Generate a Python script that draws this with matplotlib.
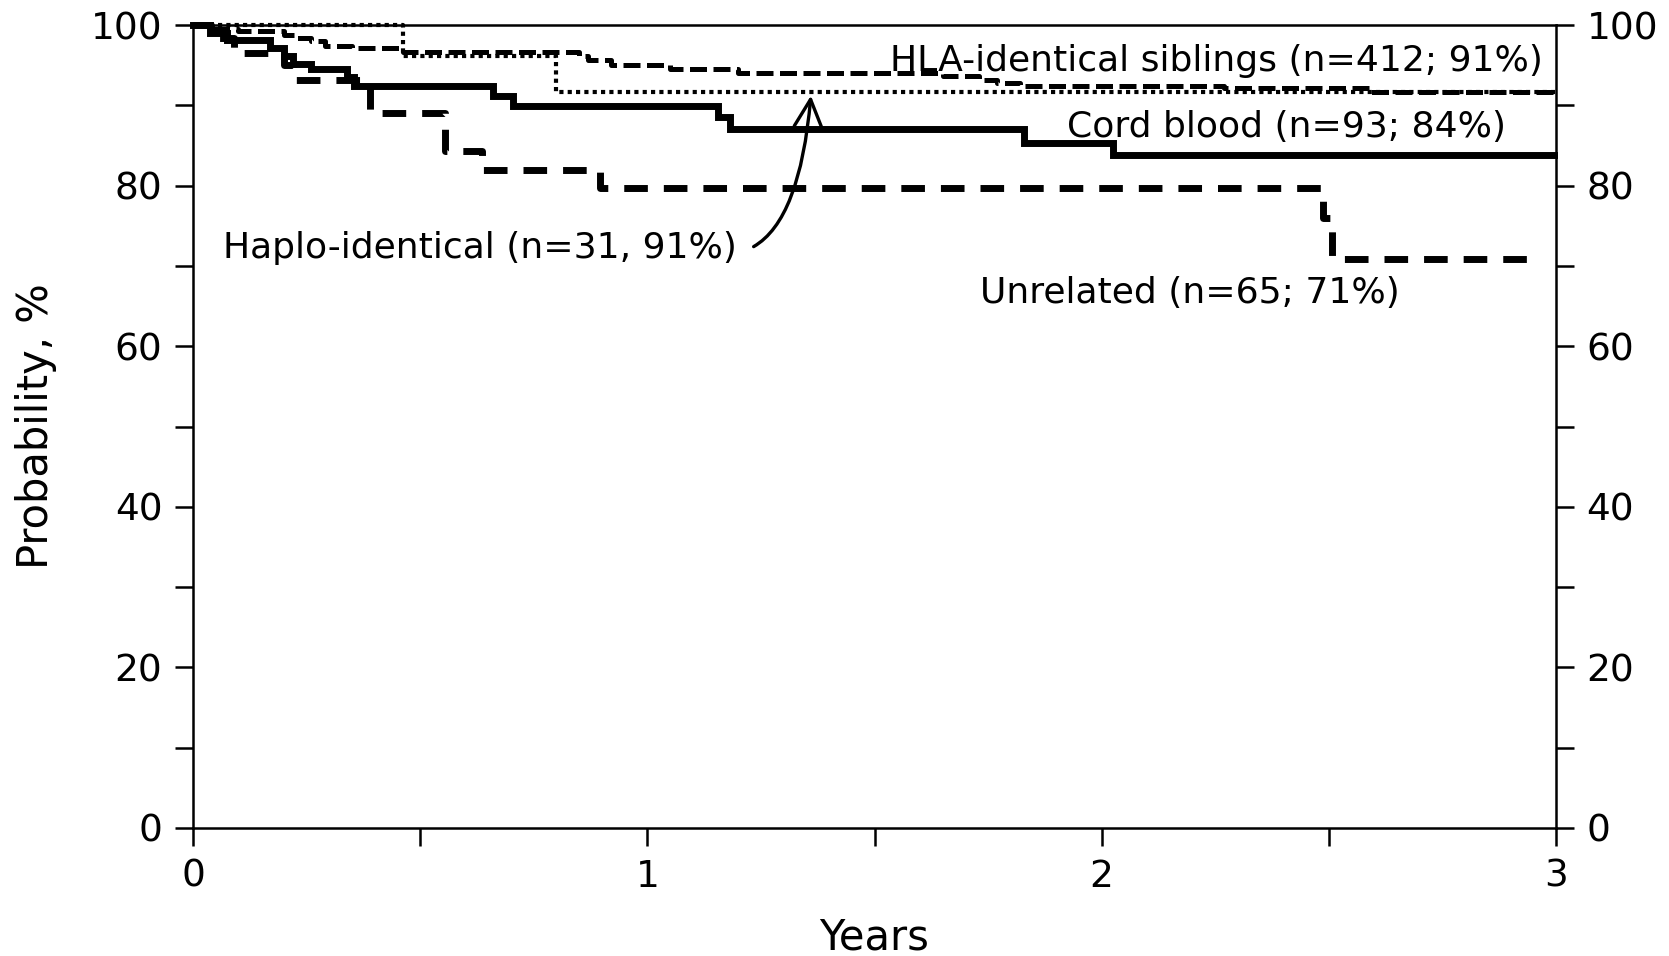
import matplotlib
matplotlib.use("Agg")
import matplotlib.pyplot as plt
from matplotlib.ticker import MultipleLocator

# ---- data (years, survival %) ----
hla_t = [0, 0.03, 0.10, 0.20, 0.23, 0.26, 0.29, 0.35, 0.463, 0.85, 0.87, 0.92,
         1.05, 1.20, 1.65, 1.73, 1.77, 1.82, 2.27, 2.59, 3.0]
hla_s = [100, 99.5, 99.2, 98.8, 98.4, 98.0, 97.4, 97.1, 96.6, 96.2, 95.6, 95.0,
         94.5, 94.0, 93.6, 93.2, 92.8, 92.4, 92.1, 91.6, 91.6]

cord_t = [0, 0.037, 0.074, 0.17, 0.20, 0.22, 0.26, 0.34, 0.355, 0.661, 0.705,
          1.156, 1.182, 1.828, 2.026, 2.995]
cord_s = [100, 99.0, 98.1, 97.1, 96.1, 95.2, 94.5, 93.5, 92.4, 91.1, 89.9,
          88.5, 87.1, 85.3, 83.8, 83.8]

haplo_t = [0, 0.463, 0.80, 3.0]
haplo_s = [100, 96.1, 91.6, 91.6]

unrel_t = [0, 0.04, 0.09, 0.20, 0.22, 0.39, 0.555, 0.635, 0.896, 2.488, 2.507, 2.97]
unrel_s = [100, 98.4, 96.5, 95.0, 93.1, 89.0, 84.3, 82.0, 79.7, 76.0, 70.8, 70.8]

labels = {
    "hla": "HLA-identical siblings (n=412; 91%)",
    "cord": "Cord blood (n=93; 84%)",
    "haplo": "Haplo-identical (n=31, 91%)",
    "unrel": "Unrelated (n=65; 71%)",
}
x_ticks = [0, 1, 2, 3]
y_ticks = [0, 20, 40, 60, 80, 100]

FS = 26
TFS = 27
LFS = 30
fig = plt.figure(figsize=(16.69, 9.56), dpi=100)
ax = fig.add_axes([193/1669, 1-828/956, (1556-193)/1669, (828-25)/956])

ax.step(cord_t, cord_s, where='post', color='black', lw=5.0, solid_joinstyle='miter',
        clip_on=False, zorder=3)
ax.step(unrel_t, unrel_s, where='post', color='black', lw=5.0,
        linestyle=(0, (3.4, 2.3)), clip_on=False, zorder=3)
ax.step(hla_t, hla_s, where='post', color='black', lw=3.6,
        linestyle=(0, (3.4, 1.3)), clip_on=False, zorder=3)
ax.step(haplo_t, haplo_s, where='post', color='black', lw=3.0,
        linestyle=(0, (1.0, 1.0)), clip_on=False, zorder=3)

ax.set_xlim(0, 3)
ax.set_ylim(0, 100)
ax.set_xticks(x_ticks)
ax.set_yticks(y_ticks)
ax.xaxis.set_minor_locator(MultipleLocator(0.5))
ax.yaxis.set_minor_locator(MultipleLocator(10))

for s in ax.spines.values():
    s.set_linewidth(1.8)
ax.tick_params(which='both', direction='out', length=13, width=1.8,
               left=True, right=True, top=False, bottom=True,
               labelleft=True, labelright=True, labelsize=TFS, pad=9)

ax.set_xlabel("Years", fontsize=LFS, labelpad=16)
ax.set_ylabel("Probability, %", fontsize=LFS, labelpad=24)

ax.text(1.535, 95.5, labels["hla"], fontsize=FS, ha='left', va='center', zorder=2)
ax.text(1.924, 87.3, labels["cord"], fontsize=FS, ha='left', va='center', zorder=2)
ax.text(0.067, 72.2, labels["haplo"], fontsize=FS, ha='left', va='center', zorder=2)
ax.text(1.733, 66.6, labels["unrel"], fontsize=FS, ha='left', va='center', zorder=2)

ax.annotate('', xy=(1.36, 91.2), xytext=(1.234, 72.4),
             arrowprops=dict(arrowstyle='->,head_length=0.8,head_width=0.4',
                             connectionstyle='angle3,angleA=30,angleB=85',
                             lw=2.4, color='black', mutation_scale=25,
                             shrinkA=0, shrinkB=0))

fig.savefig("out.png", dpi=100)
